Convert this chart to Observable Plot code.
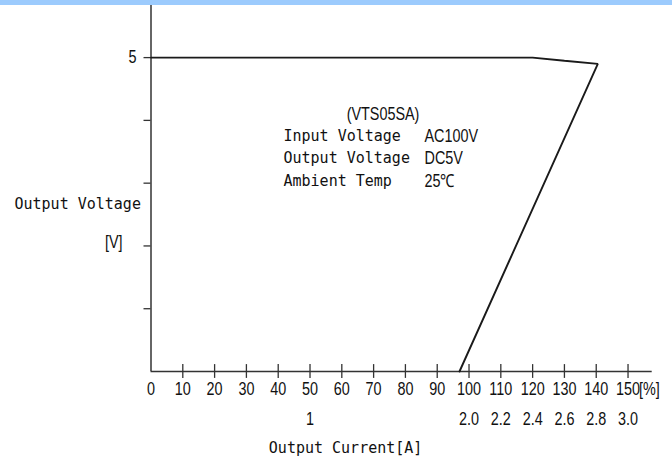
<!DOCTYPE html>
<html>
<head>
<meta charset="utf-8">
<script src="https://cdn.jsdelivr.net/npm/d3@7"></script>
<script src="https://cdn.jsdelivr.net/npm/@observablehq/plot@0.6"></script>
<style>
  html, body { margin: 0; padding: 0; background: #fff; width: 672px; height: 463px; overflow: hidden; }
  #band { height: 5px; background: #9ccbfd; }
  svg { display: block; }
</style>
</head>
<body>
<div id="band"></div>
<div id="chart"></div>
<script>
// ---- data ----
const currentPct = [0, 120, 130, 140.5, 97];
const outputVolt = [5, 5, 4.95, 4.9, 0];
const pctTicks = [0, 10, 20, 30, 40, 50, 60, 70, 80, 90, 100, 110, 120, 130, 140, 150];
const ampTickPos = [50, 100, 110, 120, 130, 140, 150];
const ampLabels = ["1", "2.0", "2.2", "2.4", "2.6", "2.8", "3.0"];
const voltTicks = [1, 2, 3, 4, 5];
const voltLabels = ["", "", "", "", "5"];
const noteTitle = ["(VTS05SA)"];
const noteKeys = ["Input Voltage", "Output Voltage", "Ambient Temp"];
const noteVals = ["AC100V", "DC5V", "25℃"];

const NARROW = "Liberation Sans, Arial, sans-serif";
const MONO = "DejaVu Sans Mono, Liberation Mono, monospace";
const INK = "#111";

const curve = currentPct.map((c, i) => ({c, v: outputVolt[i]}));

const noteMarks = [];
noteKeys.forEach((k, i) => {
  const dy = 130.7 + i * 22.4;
  noteMarks.push(Plot.text([k], {frameAnchor: "top-left", lineAnchor: "middle", dx: 132.5, dy, textAnchor: "start", fontFamily: MONO, fontSize: 15, fill: INK}));
  noteMarks.push(Plot.text([noteVals[i]], {frameAnchor: "top-left", lineAnchor: "middle", dx: 273.5, dy, textAnchor: "start", fontFamily: NARROW, fontSize: 18, fill: INK}));
});

const chart = Plot.plot({
  width: 672,
  height: 458,
  marginLeft: 150.5,
  marginRight: 20.3,
  marginTop: 0,
  marginBottom: 92,
  x: {type: "linear", domain: [0, 157.6], axis: null},
  y: {type: "linear", domain: [0, 5.83], axis: null},
  style: {fontFamily: NARROW, color: INK, background: "#fff", overflow: "visible"},
  marks: [
    // axes lines
    Plot.ruleX([0], {stroke: "#333", strokeWidth: 1.5}),
    Plot.ruleY([0], {stroke: "#333", strokeWidth: 1.5}),
    // x ticks crossing the axis
    Plot.ruleX(pctTicks.filter(d => d > 0), {x: d => d, y1: -0.11, y2: 0.11, stroke: "#333", strokeWidth: 1.3}),
    // y ticks (outward)
    Plot.ruleY(voltTicks, {y: d => d, x1: 0, x2: -2.2, stroke: "#333", strokeWidth: 1.3}),
    // y tick labels
    Plot.text(voltTicks, {x: 0, y: d => d, text: (d, i) => voltLabels[i], dx: -18.5, fontFamily: NARROW, fontSize: 18, fill: INK}),
    // x tick labels (%)
    Plot.text(pctTicks, {x: d => d, y: 0, text: d => String(d), dy: 18, fontFamily: NARROW, fontSize: 18, fill: INK}),
    Plot.text(["[%]"], {x: 150, y: 0, dx: 11, dy: 18, textAnchor: "start", fontFamily: NARROW, fontSize: 18, fill: INK}),
    // ampere labels
    Plot.text(ampTickPos, {x: d => d, y: 0, text: (d, i) => ampLabels[i], dy: 48, fontFamily: NARROW, fontSize: 18, fill: INK}),
    // characteristic curve
    Plot.line(curve, {x: "c", y: "v", stroke: "#1a1a1a", strokeWidth: 1.9, strokeLinejoin: "miter"}),
    // axis titles
    Plot.text(["Output Voltage"], {frameAnchor: "left", lineAnchor: "middle", dx: -136.5, dy: 16, textAnchor: "start", fontFamily: MONO, fontSize: 15, fill: INK}),
    Plot.text(["[V]"], {frameAnchor: "left", lineAnchor: "middle", dx: -28.5, dy: 54, textAnchor: "end", fontFamily: NARROW, fontSize: 18, fill: INK}),
    Plot.text(["Output Current[A]"], {frameAnchor: "bottom", lineAnchor: "middle", dx: -56, dy: 77, fontFamily: MONO, fontSize: 15, fill: INK}),
    // annotation
    Plot.text(noteTitle, {frameAnchor: "top-left", lineAnchor: "middle", dx: 232, dy: 109, textAnchor: "middle", fontFamily: NARROW, fontSize: 18, fill: INK}),
    ...noteMarks
  ]
});

// narrow the proportional (Arial-like) labels, like Arial Narrow
chart.querySelectorAll("g[font-family]").forEach(g => {
  if (g.getAttribute("font-family").startsWith("Liberation Sans")) {
    g.querySelectorAll("text").forEach(t => {
      const tr = t.getAttribute("transform") || "";
      t.setAttribute("transform", tr + " scale(0.8,1)");
    });
  }
});

document.getElementById("chart").appendChild(chart);
</script>
</body>
</html>
